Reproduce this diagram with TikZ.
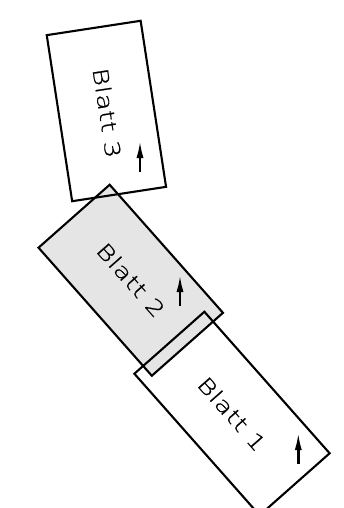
\documentclass[tikz,border=0pt]{standalone}
\usepackage{fontspec}
\usepackage{graphicx}
\usetikzlibrary{arrows.meta}
\IfFontExistsTF{DejaVu Sans ExtraLight}{\newfontfamily\blattfont{DejaVu Sans ExtraLight}[LetterSpace=1,FakeBold=0.7]}{\newfontfamily\blattfont{DejaVu Sans}[LetterSpace=1]}
\newcommand{\blatttext}[1]{\scalebox{1.3}[1]{\blattfont\fontsize{21}{23}\selectfont #1}}
\begin{document}
\begin{tikzpicture}[x=1pt,y=1pt,
  sheet/.style={rectangle,draw=black,line width=2.1pt,minimum width=95pt,minimum height=169pt,inner sep=0pt},
  sheettext/.style={inner sep=0pt},
  dirarrow/.style={line width=2.5pt,-{Latex[length=18pt,width=7pt]}}]
\useasboundingbox (0,0) rectangle (344,-508);
\clip (0,0) rectangle (344,-508);
\node[sheet,fill=gray!20,rotate=41.5,minimum width=95pt,minimum height=171pt] (b2) at (130.75,-280.25) {};
\node[sheet,rotate=8.7,minimum width=95pt,minimum height=168pt] (b3) at (106.4,-111) {};
\node[sheet,rotate=41.5,minimum width=93.5pt,minimum height=189pt] (b1) at (232,-413.5) {};
\node[sheettext,rotate=-81.3] (t3) at (107,-113) {\blatttext{Blatt 3}};
\node[sheettext,rotate=-48.5] (t2) at (131,-280) {\blatttext{Blatt 2}};
\node[sheettext,rotate=-48.5] (t1) at (232,-414) {\blatttext{Blatt 1}};
\coordinate (a3s) at (140,-172);
\coordinate (a3e) at (140,-140);
\coordinate (a2s) at (180,-306);
\coordinate (a2e) at (180,-274);
\coordinate (a1s) at (298.3,-464);
\coordinate (a1e) at (298.3,-432);
\draw[dirarrow] (a3s) -- (a3e);
\draw[dirarrow] (a2s) -- (a2e);
\draw[dirarrow] (a1s) -- (a1e);
\end{tikzpicture}
\end{document}
